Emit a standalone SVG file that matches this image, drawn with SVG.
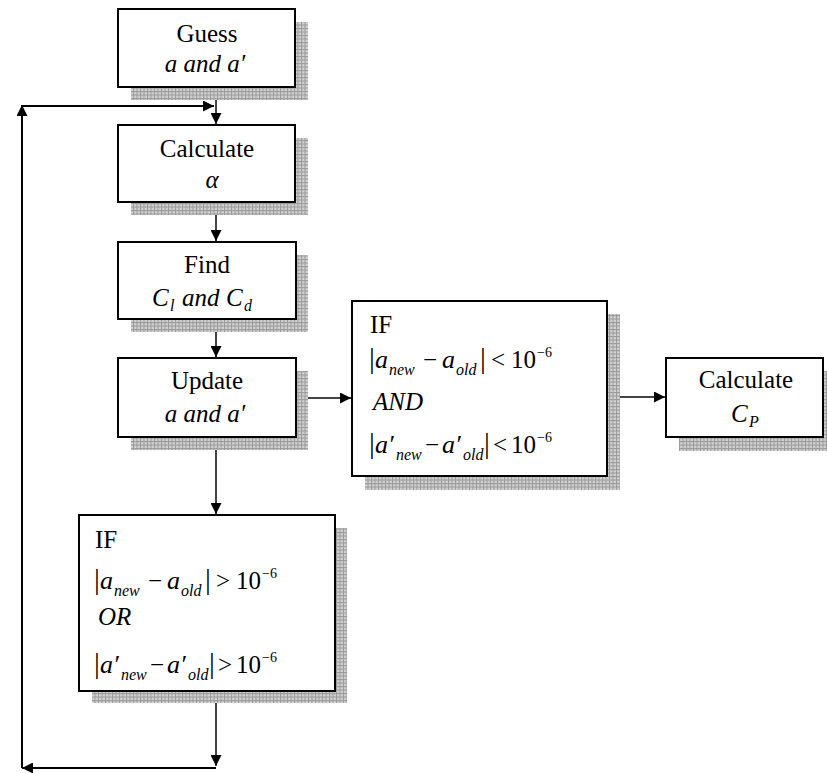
<svg xmlns="http://www.w3.org/2000/svg" width="827" height="773" viewBox="0 0 827 773">
<defs>
  <pattern id="grid" width="3.5" height="3.5" patternUnits="userSpaceOnUse">
    <rect width="3.5" height="3.5" fill="#d2d2d2"/>
    <path d="M0,0.5 H3.5 M0.5,0 V3.5" stroke="#9a9a9a" stroke-width="1"/>
  </pattern>
  <marker id="arr" markerUnits="userSpaceOnUse" markerWidth="11" markerHeight="11" refX="11" refY="5.5" orient="auto">
    <path d="M0,0 L11,5.5 L0,11 z" fill="#000"/>
  </marker>
</defs>
<style>
  .box{fill:#fff;stroke:#000;stroke-width:2}
  .sh{fill:url(#grid)}
  .t{font-family:"Liberation Serif","Times New Roman",serif;font-size:25px;fill:#000}
  .c{text-anchor:middle}
  .i{font-style:italic}
  .m{font-style:italic;font-size:26px}
  .bar{font-size:29px}
  .sub{font-size:16px;font-style:italic}
  .sup{font-size:14px}
  .ln{fill:none;stroke:#444;stroke-width:2}
  .lk{fill:none;stroke:#000;stroke-width:2}
</style>
<g id="connectors">
  <path class="ln" d="M216,88 V124" marker-end="url(#arr)"/>
  <path class="ln" d="M216,203 V241" marker-end="url(#arr)"/>
  <path class="ln" d="M216,320 V357" marker-end="url(#arr)"/>
  <path class="ln" d="M297,398 H351" marker-end="url(#arr)"/>
  <path class="ln" d="M608,397 H665" marker-end="url(#arr)"/>
  <path class="ln" d="M216,438 V514" marker-end="url(#arr)"/>
  <path class="ln" d="M216,692 V766" marker-end="url(#arr)"/>
  <path class="lk" d="M216,768 H22" marker-end="url(#arr)"/>
  <path class="lk" d="M22,768 V105" marker-end="url(#arr)"/>
  <path class="lk" d="M21,106 H214" marker-end="url(#arr)"/>
</g>
<g id="guess">
  <rect class="sh" x="131" y="22" width="177" height="78"/>
  <rect class="box" x="118" y="9" width="177" height="78"/>
  <text class="t c" x="207" y="42">Guess</text>
  <text class="t c i" x="205" y="72">a and a′</text>
</g>
<g id="calc-alpha">
  <rect class="sh" x="131" y="138" width="177" height="77"/>
  <rect class="box" x="118" y="125" width="177" height="77"/>
  <text class="t c" x="207" y="157">Calculate</text>
  <text class="t c i" x="212" y="188">α</text>
</g>
<g id="find">
  <rect class="sh" x="131" y="255" width="177" height="77"/>
  <rect class="box" x="118" y="242" width="178" height="77"/>
  <text class="t c" x="207" y="273">Find</text>
  <text class="t i" y="306"><tspan x="152">C</tspan><tspan class="sub" x="170" y="311">l</tspan><tspan x="182" y="306">and</tspan><tspan x="226">C</tspan><tspan class="sub" x="244" y="311">d</tspan></text>
</g>
<g id="update">
  <rect class="sh" x="131" y="371" width="177" height="79"/>
  <rect class="box" x="118" y="358" width="178" height="79"/>
  <text class="t c" x="207" y="389">Update</text>
  <text class="t c i" x="205" y="422">a and a′</text>
</g>
<g id="if-and">
  <rect class="sh" x="365" y="314" width="255" height="176"/>
  <rect class="box" x="352" y="301" width="255" height="175"/>
  <text class="t" x="370" y="333">IF</text>
  <text class="t" y="368"><tspan class="bar" x="369">|</tspan><tspan class="m" x="375">a</tspan><tspan class="sub" x="389" y="375">new</tspan><tspan x="423" y="368">−</tspan><tspan class="m" x="442">a</tspan><tspan class="sub" x="456" y="375">old</tspan><tspan class="bar" x="480" y="368">|</tspan><tspan x="491">&lt;</tspan><tspan x="511">10</tspan><tspan class="sup" x="537" y="357">−6</tspan></text>
  <text class="t i" x="373" y="410">AND</text>
  <text class="t" y="453"><tspan class="bar" x="369">|</tspan><tspan class="m" x="375">a′</tspan><tspan class="sub" x="396" y="460">new</tspan><tspan x="425" y="453">−</tspan><tspan class="m" x="442">a′</tspan><tspan class="sub" x="463" y="460">old</tspan><tspan class="bar" x="484" y="453">|</tspan><tspan x="493">&lt;</tspan><tspan x="511">10</tspan><tspan class="sup" x="537" y="442">−6</tspan></text>
</g>
<g id="calc-cp">
  <rect class="sh" x="679" y="371" width="148" height="80"/>
  <rect class="box" x="666" y="358" width="157" height="79"/>
  <text class="t c" x="746" y="388">Calculate</text>
  <text class="t i" y="422"><tspan x="731">C</tspan><tspan class="sub" x="749" y="427">P</tspan></text>
</g>
<g id="if-or">
  <rect class="sh" x="92" y="528" width="255" height="175"/>
  <rect class="box" x="79" y="515" width="256" height="176"/>
  <text class="t" x="95" y="548">IF</text>
  <text class="t" y="589"><tspan class="bar" x="94">|</tspan><tspan class="m" x="100">a</tspan><tspan class="sub" x="114" y="596">new</tspan><tspan x="148" y="589">−</tspan><tspan class="m" x="167">a</tspan><tspan class="sub" x="181" y="596">old</tspan><tspan class="bar" x="205" y="589">|</tspan><tspan x="216">&gt;</tspan><tspan x="236">10</tspan><tspan class="sup" x="262" y="578">−6</tspan></text>
  <text class="t i" x="98" y="625">OR</text>
  <text class="t" y="673"><tspan class="bar" x="94">|</tspan><tspan class="m" x="100">a′</tspan><tspan class="sub" x="121" y="680">new</tspan><tspan x="150" y="673">−</tspan><tspan class="m" x="167">a′</tspan><tspan class="sub" x="188" y="680">old</tspan><tspan class="bar" x="209" y="673">|</tspan><tspan x="218">&gt;</tspan><tspan x="236">10</tspan><tspan class="sup" x="262" y="662">−6</tspan></text>
</g>
</svg>
